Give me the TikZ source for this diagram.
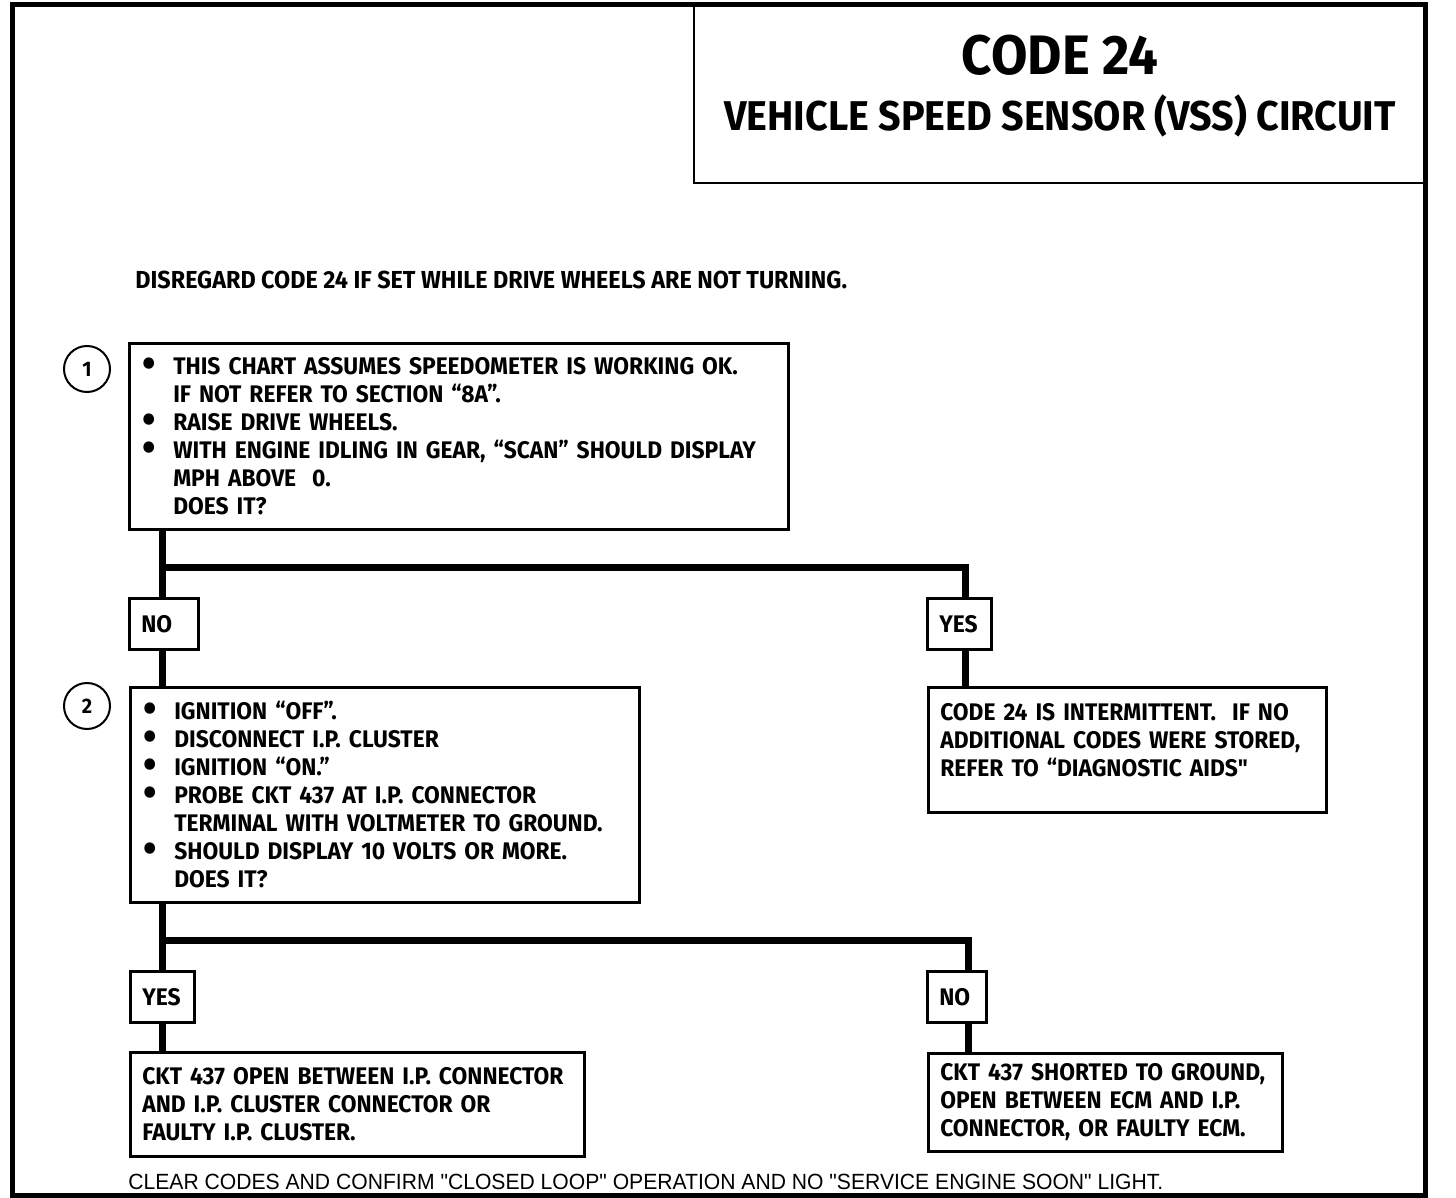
\documentclass[tikz,border=0pt]{standalone}
\usepackage{fontspec}
\setmainfont{Fira Sans}
\newfontfamily\chartfont[FakeStretch=0.95]{Fira Sans}
\newfontfamily\notefont[FakeStretch=0.96]{Liberation Sans}
\usetikzlibrary{positioning}

\newcommand{\bul}{\makebox[16pt][l]{\hspace*{0.5pt}\raisebox{-1.2pt}[0pt][0pt]{\scalebox{1.7}{\textbullet}}}}
\newcommand{\cont}{\hspace*{16pt}}

\begin{document}
\begin{tikzpicture}[x=0.5pt,y=-0.5pt,
    chartbox/.style={draw,line width=1.3pt,anchor=north west,inner xsep=6pt,inner ysep=0pt,align=left,
      font=\chartfont\bfseries\fontsize{12}{14}\selectfont},
    stepnum/.style={draw,circle,line width=1pt,minimum size=23pt,inner sep=0pt,
      font=\chartfont\bfseries\fontsize{10.5}{10.5}\selectfont},
    flow/.style={line width=3.5pt}]

  \useasboundingbox (0,0) rectangle (1456,1198);
  \draw[line width=2.5pt] (12,5) rectangle (1425,1195);

  % heading
  \node[draw,line width=1pt,anchor=north west,minimum width=366pt,minimum height=88.5pt,align=center,
    font=\chartfont\bfseries\fontsize{20.8}{30}\selectfont] (title) at (693,5)
    {{\fontsize{27.8}{30}\selectfont CODE 24}\\[-2pt]VEHICLE SPEED SENSOR (VSS) CIRCUIT\\[-18pt]\mbox{}};

  \node[anchor=west,inner sep=0pt,font=\chartfont\bfseries\fontsize{12.3}{14}\selectfont] (disregard) at (135,280)
    {DISREGARD CODE 24 IF SET WHILE DRIVE WHEELS ARE NOT TURNING.};

  % step 1
  \node[stepnum] (step1) at (87,369) {1};
  \node[chartbox,text width=317.5pt,minimum height=93pt] (check1) at (128,342)
    {\bul THIS CHART ASSUMES SPEEDOMETER IS WORKING OK.\\
     \cont IF NOT REFER TO SECTION “8A”.\\
     \bul RAISE DRIVE WHEELS.\\
     \bul WITH ENGINE IDLING IN GEAR, “SCAN” SHOULD DISPLAY\\
     \cont MPH ABOVE\ \ 0.\\
     \cont DOES IT?};

  \node[chartbox,text width=22.5pt,minimum height=25.5pt] (no1) at (128,597) {NO};
  \node[chartbox,text width=20pt,minimum height=25.5pt] (yes1) at (926,597) {YES};

  \node[chartbox,text width=187pt,minimum height=62.5pt] (note1) at (927,686)
    {CODE 24 IS INTERMITTENT.\ \ IF NO\\
     ADDITIONAL CODES WERE STORED,\\
     REFER TO “DIAGNOSTIC AIDS"\\[-4.5pt]\mbox{}};

  % step 2
  \node[stepnum] (step2) at (87,706) {2};
  \node[chartbox,text width=242.5pt,minimum height=107.5pt] (check2) at (129,686)
    {\bul IGNITION “OFF”.\\
     \bul DISCONNECT I.P. CLUSTER\\
     \bul IGNITION “ON.”\\
     \bul PROBE CKT 437 AT I.P. CONNECTOR\\
     \cont TERMINAL WITH VOLTMETER TO GROUND.\\
     \bul SHOULD DISPLAY 10 VOLTS OR MORE.\\
     \cont DOES IT?};

  \node[chartbox,text width=20pt,minimum height=25.5pt] (yes2) at (129,970) {YES};
  \node[chartbox,text width=17.5pt,minimum height=25.5pt] (no2) at (926,970) {NO};

  \node[chartbox,text width=215pt,minimum height=52pt] (cause1) at (129,1051)
    {CKT 437 OPEN BETWEEN I.P. CONNECTOR\\
     AND I.P. CLUSTER CONNECTOR OR\\
     FAULTY I.P. CLUSTER.};
  \node[chartbox,text width=165pt,minimum height=49pt] (cause2) at (927,1052)
    {CKT 437 SHORTED TO GROUND,\\
     OPEN BETWEEN ECM AND I.P.\\
     CONNECTOR, OR FAULTY ECM.};

  \node[anchor=west,inner sep=0pt,font=\notefont\fontsize{11}{13}\selectfont] (clear) at (128,1182)
    {CLEAR CODES AND CONFIRM "CLOSED LOOP" OPERATION AND NO "SERVICE ENGINE SOON" LIGHT.};

  % flow lines
  \coordinate (fork1) at (162,567);
  \coordinate (drop1) at (965,567);
  \coordinate (fork2) at (162,940);
  \coordinate (drop2) at (968,940);
  \draw[flow] (check1.south -| fork1) -- (no1.north -| fork1);
  \draw[flow] (fork1) -- (drop1) -- (drop1 |- yes1.north);
  \draw[flow] (no1.south -| fork1) -- (fork1 |- check2.north);
  \draw[flow] (yes1.south -| drop1) -- (drop1 |- note1.north);
  \draw[flow] (check2.south -| fork2) -- (fork2 |- yes2.north);
  \draw[flow] (fork2) -- (drop2) -- (drop2 |- no2.north);
  \draw[flow] (yes2.south -| fork2) -- (fork2 |- cause1.north);
  \draw[flow] (no2.south -| drop2) -- (drop2 |- cause2.north);
\end{tikzpicture}
\end{document}
